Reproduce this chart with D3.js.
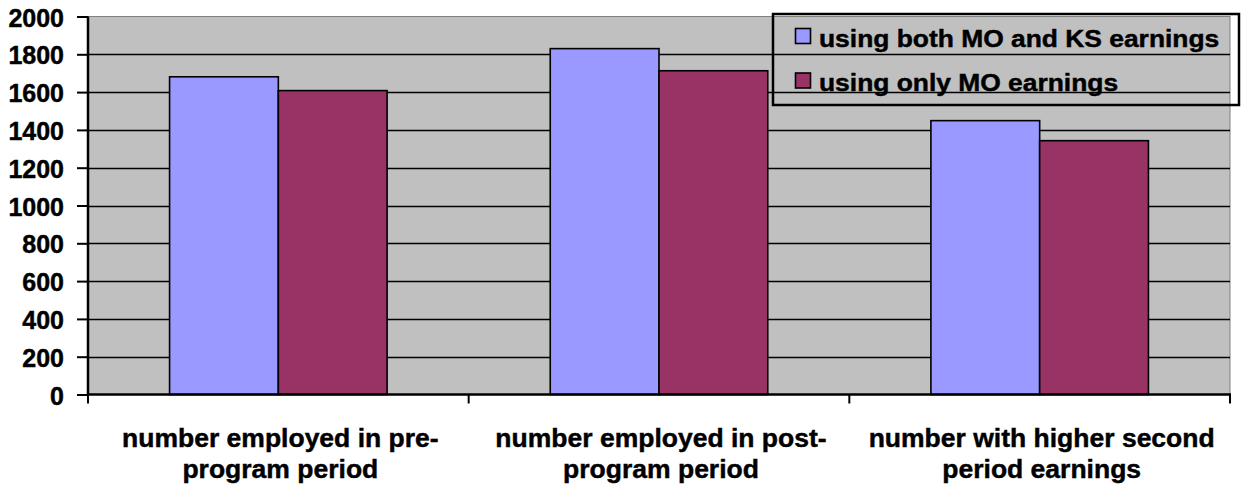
<!DOCTYPE html>
<html>
<head>
<meta charset="utf-8">
<script src="https://cdn.jsdelivr.net/npm/d3@7"></script>
<style>
  html, body { margin: 0; padding: 0; background: #fff; }
  svg { display: block; }
  text { font-family: "Liberation Sans", Arial, sans-serif; font-weight: bold; fill: #000; stroke: #000; stroke-width: 0.45px; }
</style>
</head>
<body>
<svg id="chart" width="1242" height="486"></svg>
<script>
// Categories (two-line labels) and the two series compared per category
const categories = [
  ["number employed in pre-", "program period"],
  ["number employed in post-", "program period"],
  ["number with higher second", "period earnings"]
];
const seriesNames = ["using both MO and KS earnings", "using only MO earnings"];
const bothMOKS = [1681, 1830, 1449];
const onlyMO   = [1608, 1713, 1343];
const yTicks   = [0, 200, 400, 600, 800, 1000, 1200, 1400, 1600, 1800, 2000];
const colors   = ["#9999FF", "#993366"];

const svg = d3.select("#chart");
const plot = { left: 88, right: 1230, top: 16.5, bottom: 394.5 };

const y = d3.scaleLinear().domain([0, 2000]).range([plot.bottom, plot.top]);
const x0 = d3.scaleBand().domain(d3.range(categories.length))
  .range([plot.left, plot.right]).padding(0);
const bw = x0.bandwidth();
// gap of 150% of a bar width between groups
const barW = bw / 3.5;
const x1 = d3.scaleBand().domain(d3.range(seriesNames.length))
  .range([0.75 * barW, 0.75 * barW + 2 * barW]).padding(0);

// plot background
svg.append("rect")
  .attr("x", plot.left).attr("y", plot.top)
  .attr("width", plot.right - plot.left).attr("height", plot.bottom - plot.top)
  .attr("fill", "#C0C0C0").attr("stroke", "#808080").attr("stroke-width", 1);

// horizontal gridlines
svg.append("g").selectAll("line").data(yTicks.filter(d => d > 0 && d < 2000)).join("line")
  .attr("x1", plot.left).attr("x2", plot.right)
  .attr("y1", d => Math.round(y(d)) + 0.5).attr("y2", d => Math.round(y(d)) + 0.5)
  .attr("stroke", "#000").attr("stroke-width", 1.3);

// bars
const values = [bothMOKS, onlyMO];
const groups = svg.append("g").selectAll("g").data(categories.map((c, i) => i)).join("g")
  .attr("transform", i => `translate(${x0(i)},0)`);
groups.selectAll("rect").data(i => values.map((v, s) => ({ s, v: v[i] }))).join("rect")
  .attr("x", d => x1(d.s))
  .attr("width", x1.bandwidth())
  .attr("y", d => y(d.v))
  .attr("height", d => y(0) - y(d.v))
  .attr("fill", d => colors[d.s])
  .attr("stroke", "#000").attr("stroke-width", 1.6);

// y axis
const yAxis = d3.axisLeft(y).tickValues(yTicks).tickSize(11).tickPadding(13).tickFormat(d3.format("d"));
const gy = svg.append("g").attr("transform", `translate(${plot.left},0)`).call(yAxis);
gy.attr("font-size", null).attr("font-family", null);
gy.select(".domain").attr("stroke", "#000").attr("stroke-width", 2.5).attr("d", `M0,${plot.top}V${plot.bottom}`);
gy.selectAll(".tick line").attr("stroke", "#000").attr("stroke-width", 2);
gy.selectAll(".tick text")
  .attr("fill", "#000")
  .style("font-size", "25px")
  .attr("dy", "0.38em");

// x axis with ticks at category boundaries
const boundaries = d3.range(categories.length + 1).map(i => plot.left + i * bw);
const gx = svg.append("g");
gx.append("line").attr("x1", plot.left).attr("x2", plot.right + 1)
  .attr("y1", plot.bottom).attr("y2", plot.bottom)
  .attr("stroke", "#000").attr("stroke-width", 2.5);
gx.selectAll("line.tk").data(boundaries).join("line").attr("class", "tk")
  .attr("x1", d => d).attr("x2", d => d)
  .attr("y1", plot.bottom).attr("y2", plot.bottom + 9)
  .attr("stroke", "#000").attr("stroke-width", 2);

// category labels
const lab = svg.append("g").selectAll("text").data(categories).join("text")
  .attr("text-anchor", "middle")
  .attr("transform", (d, i) => `translate(${x0(i) + bw / 2 + 2},0)`)
  .style("font-size", "26.5px");
lab.selectAll("tspan").data(d => d).join("tspan")
  .attr("x", 0).attr("y", (d, j) => 447 + j * 31).text(d => d);

// legend (transparent box over the plot)
const lg = svg.append("g");
lg.append("rect").attr("x", 773).attr("y", 14).attr("width", 466).attr("height", 91)
  .attr("fill", "none").attr("stroke", "#000").attr("stroke-width", 2.5);
const items = lg.selectAll("g.item").data(seriesNames).join("g").attr("class", "item")
  .attr("transform", (d, i) => `translate(0,${i * 44.5})`);
items.append("rect").attr("x", 795.5).attr("y", 28.5).attr("width", 15).attr("height", 15)
  .attr("fill", (d, i) => colors[i]).attr("stroke", "#000").attr("stroke-width", 1.6);
items.append("text")
  .attr("transform", "translate(819,46.5) scale(1.1,1)")
  .style("font-size", "24px")
  .text(d => d);
</script>
</body>
</html>
